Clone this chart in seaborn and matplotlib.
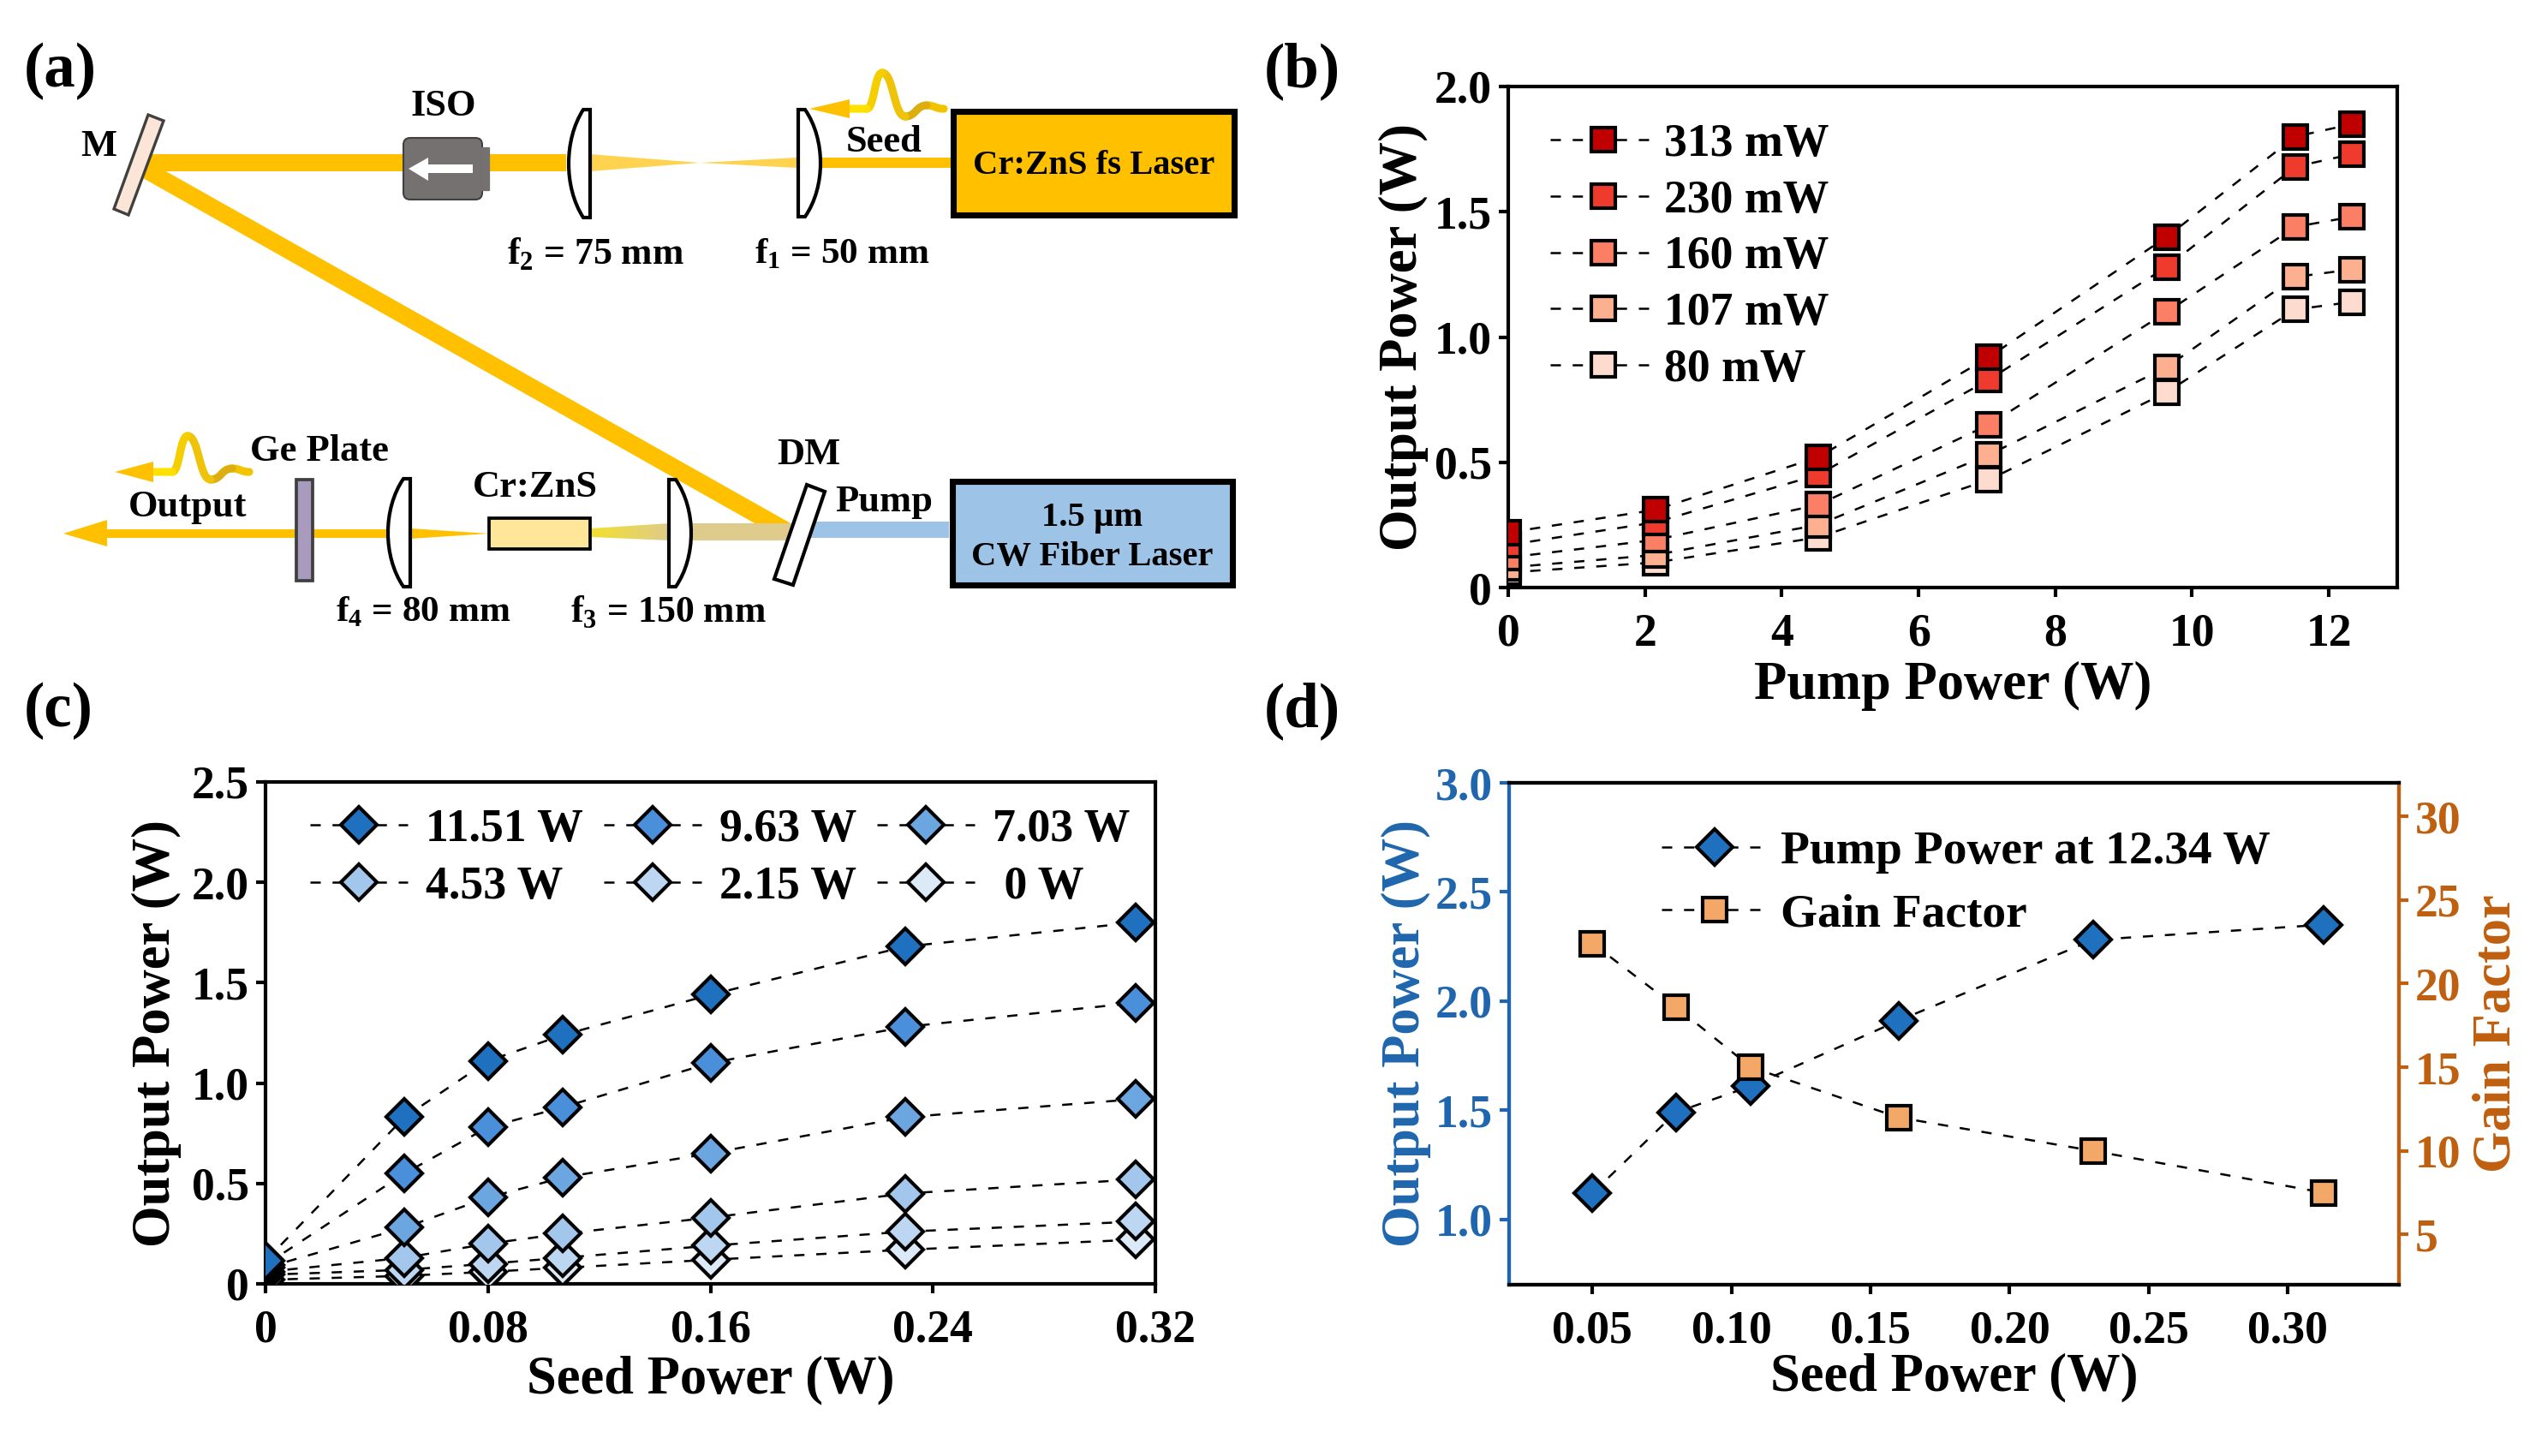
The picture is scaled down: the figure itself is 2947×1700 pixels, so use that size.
import matplotlib
matplotlib.use("Agg")
import matplotlib.pyplot as plt
import numpy as np
import seaborn as sns
from matplotlib.colors import LinearSegmentedColormap
from matplotlib.patches import Polygon, Rectangle, FancyBboxPatch, PathPatch
from matplotlib.path import Path

W, H = 2947, 1700

# panel (b): output power vs pump power, one series per seed power
pump_power = [0, 2.15, 4.53, 7.03, 9.63, 11.51, 12.34]
seed_labels = ["313 mW", "230 mW", "160 mW", "107 mW", "80 mW"]
seed_313 = [0.22, 0.31, 0.52, 0.92, 1.40, 1.80, 1.85]
seed_230 = [0.17, 0.26, 0.45, 0.83, 1.28, 1.68, 1.73]
seed_160 = [0.12, 0.19, 0.33, 0.65, 1.10, 1.44, 1.48]
seed_107 = [0.08, 0.13, 0.25, 0.53, 0.88, 1.24, 1.27]
seed_80 = [0.06, 0.10, 0.20, 0.43, 0.78, 1.11, 1.14]
reds = ["#C00000", "#EE3B2E", "#FB7F64", "#FCB08F", "#FDDCCF"]

# panel (c): output power vs seed power, one series per pump power
seed_power = [0, 0.05, 0.08, 0.107, 0.16, 0.23, 0.313]
pump_labels = ["11.51 W", "9.63 W", "7.03 W", "4.53 W", "2.15 W", " 0 W"]
pump_1151 = [0.115, 0.83, 1.11, 1.24, 1.44, 1.68, 1.80]
pump_963 = [0.095, 0.55, 0.78, 0.88, 1.10, 1.28, 1.40]
pump_703 = [0.08, 0.28, 0.43, 0.53, 0.65, 0.83, 0.92]
pump_453 = [0.06, 0.13, 0.20, 0.25, 0.33, 0.45, 0.52]
pump_215 = [0.045, 0.07, 0.10, 0.13, 0.19, 0.26, 0.31]
pump_0 = [0.02, 0.04, 0.06, 0.08, 0.12, 0.17, 0.22]
blues = ["#2070C0", "#4A8FDA", "#6BA6E0", "#A3C6EC", "#BDD7F2", "#DCEAF8"]

# panel (d): output power and gain factor at full pump
seed_d = [0.05, 0.08, 0.107, 0.16, 0.23, 0.313]
output_d = [1.12, 1.49, 1.61, 1.91, 2.28, 2.35]
gain_d = [22.4, 18.6, 15.0, 12.0, 10.0, 7.5]

BLUE_AXIS = "#1F66AE"
ORANGE_AXIS = "#BF5F10"
BEAM = "#FFC000"
DASH = (0, (4.8, 5.5))

sns.set_theme(style="ticks")
plt.rcParams["font.family"] = ["Liberation Serif", "DejaVu Serif"]
plt.rcParams["font.weight"] = "bold"
plt.rcParams["axes.labelweight"] = "bold"
plt.rcParams["mathtext.fontset"] = "custom"
plt.rcParams["mathtext.bf"] = "Liberation Serif:bold"
plt.rcParams["mathtext.rm"] = "Liberation Serif:bold"
plt.rcParams["axes.linewidth"] = 1.0
for key in ["text.color", "axes.labelcolor", "xtick.color", "ytick.color"]:
    plt.rcParams[key] = "black"

fig = plt.figure(figsize=(W / 300, H / 300), dpi=300)


def px_axes(left, top, right, bottom):
    return fig.add_axes([left / W, 1 - bottom / H, (right - left) / W, (bottom - top) / H])


def draw_series(ax, x, y, color, marker, label=None, order=3):
    size = 6.6 if marker == "s" else 7.0
    sns.lineplot(x=x, y=y, ax=ax, color="black", linestyle=DASH, linewidth=0.6,
                 marker=marker, markersize=size, markerfacecolor=color,
                 markeredgecolor="black", markeredgewidth=1.0,
                 errorbar=None, label=label, zorder=order)


def style_axes(ax, tick_size=12.9):
    ax.tick_params(axis="both", direction="out", length=2.6, width=1.0, labelsize=tick_size,
                   colors="black", bottom=True, left=True)
    ax.tick_params(axis="x", pad=4.5)
    ax.tick_params(axis="y", pad=2)
    for s in ax.spines.values():
        s.set_visible(True)
        s.set_linewidth(1.0)
        s.set_color("black")


# ---- schematic (a), drawn in picture pixels ----
sk = fig.add_axes([0, 0, 1, 1])
sk.set_xlim(0, W)
sk.set_ylim(H, 0)
sk.axis("off")


def poly(points, fc, ec="none", lw=0, z=2):
    sk.add_patch(Polygon(points, closed=True, facecolor=fc, edgecolor=ec, linewidth=lw, zorder=z))


def grad_poly(points, c0, c1, z=2):
    # left to right colour fade, clipped to the beam shape
    xs = [p[0] for p in points]
    ys = [p[1] for p in points]
    cmap = LinearSegmentedColormap.from_list("fade", [c0, c1])
    im = sk.imshow(np.linspace(0, 1, 64).reshape(1, -1), cmap=cmap, aspect="auto", zorder=z,
                   extent=(min(xs), max(xs), max(ys), min(ys)))
    im.set_clip_path(Polygon(points, closed=True, transform=sk.transData))
    sk.set_xlim(0, W)
    sk.set_ylim(H, 0)


def box(x0, y0, x1, y1, fc, ec="black", lw=1.6, z=3):
    sk.add_patch(Rectangle((x0, y0), x1 - x0, y1 - y0, facecolor=fc, edgecolor=ec, linewidth=lw, zorder=z))


def lens(x_flat, x_bulge, y0, y1):
    side = 1 if x_bulge > x_flat else -1
    x_top = x_flat + side * 8
    cx = x_top + (x_bulge - x_top) / 0.75
    h = y1 - y0
    verts = [(x_flat, y0), (x_top, y0), (cx, y0 + 0.28 * h), (cx, y1 - 0.28 * h), (x_top, y1),
             (x_flat, y1), (x_flat, y0)]
    codes = [Path.MOVETO, Path.LINETO, Path.CURVE4, Path.CURVE4, Path.CURVE4, Path.LINETO, Path.CLOSEPOLY]
    sk.add_patch(PathPatch(Path(verts, codes), facecolor="white", edgecolor="black", linewidth=1.0, zorder=5))


def pulse(xr, yr, knots, colors, tip_x, head_x, half):
    for (a, b), (c, d), col in zip(knots[:-1], knots[1:], colors):
        mid = xr + (a + c) / 2
        verts = [(xr + a, yr + b), (mid, yr + b), (mid, yr + d), (xr + c, yr + d)]
        codes = [Path.MOVETO, Path.CURVE4, Path.CURVE4, Path.CURVE4]
        sk.add_patch(PathPatch(Path(verts, codes), facecolor="none", edgecolor=col, linewidth=2.2,
                               capstyle="round", zorder=4))
    poly([(tip_x, yr), (head_x, yr - half), (head_x, yr + half)], BEAM, z=4)


# top arm
poly([(155, 180), (661, 180), (661, 200), (155, 200)], BEAM)
poly([(689, 180), (817, 190), (930, 184), (930, 196), (817, 190), (689, 200)], "#FFD34F")
poly([(958, 184), (1110, 184), (1110, 196), (958, 196)], BEAM)
# folded beam
poly([(192, 199), (925, 612), (883, 612), (160, 204), (160, 199)], BEAM)
# bottom arm
poly([(807, 611), (930, 611), (930, 631), (807, 631)], "#DFCB8B")
grad_poly([(690, 617), (782, 611), (782, 631), (690, 627)], "#F2E030", "#DFCB8B")
poly([(936, 609), (1108, 609), (1108, 628), (930, 628)], "#9DC3E6")
poly([(125, 618), (453, 618), (453, 628), (125, 628)], BEAM)
poly([(74, 623), (125, 607), (125, 638)], BEAM)
poly([(453, 617), (479, 617), (571, 623), (479, 629), (453, 629)], BEAM)

box(1113, 130, 1441, 251, BEAM, lw=1.7)
box(1112, 562, 1439, 683, "#9DC3E6", lw=1.7)
box(571, 605, 689, 641, "#FFE699", lw=0.9)
box(346, 560, 365, 678, "#A99BBD", ec="#404040", lw=0.9)
poly([(173, 134), (191, 141), (150, 251), (133, 244)], "#FBE5D6", ec="#404040", lw=0.8, z=4)
poly([(942, 566), (963, 574), (926, 683), (904, 676)], "white", ec="black", lw=1.0, z=4)

# isolator
sk.add_patch(FancyBboxPatch((471, 161), 92, 72, boxstyle="round,pad=0,rounding_size=8",
                            facecolor="#767171", edgecolor="#404040", linewidth=0.5, zorder=4))
box(562, 172, 571, 222, "#767171", ec="#767171", lw=0.3, z=4)
poly([(477, 197), (500, 184), (500, 192), (552, 192), (552, 202), (500, 202), (500, 211)], "white", z=6)

lens(689, 664, 128, 254)
lens(932, 958, 128, 253)
lens(479, 453, 559, 685)
lens(781, 807, 560, 685)

wiggle = [(0, 0), (-20, -4), (-45, 9), (-72, -42), (-90, 0), (-110, 0)]
wiggle_colors = ["#F2C400", "#DDAE10", "#EFC30A", "#F5CE00", "#FFE100"]
pulse(1102, 127, wiggle, wiggle_colors, 945, 992, 11)
pulse(291, 551, wiggle, wiggle_colors, 134, 179, 12)


def label(x, y, s, size=10.7, ha="center"):
    sk.text(x, y + 2.5, s, fontsize=size, ha=ha, va="center", zorder=8)


label(518, 121, "ISO")
label(115, 168, "M")
label(1032, 163, "Seed")
label(1277, 191, "Cr:ZnS fs Laser", 9.75)
label(592, 294, r"f$_{\mathbf{2}}$ = 75 mm", 10.5, ha="left")
label(881, 294, r"f$_{\mathbf{1}}$ = 50 mm", 10.4, ha="left")
label(373, 524, "Ge Plate")
label(219, 589, "Output")
label(625, 567, "Cr:ZnS")
label(944, 529, "DM")
label(1032, 583, "Pump")
label(1275, 602, "1.5 µm", 9.75)
label(1275, 648, "CW Fiber Laser", 9.75)
label(392, 712, r"f$_{\mathbf{4}}$ = 80 mm", 10.4, ha="left")
label(666, 712, r"f$_{\mathbf{3}}$ = 150 mm", 10.5, ha="left")

for tag, x, y in [("(a)", 28, 81), ("(b)", 1476, 81), ("(c)", 28, 828), ("(d)", 1476, 828)]:
    label(x, y, tag, 17.5, ha="left")

# ---- panel (b) ----
ax_b = px_axes(1761, 101, 2799, 686)
series_b = [seed_313, seed_230, seed_160, seed_107, seed_80]
for i, vals in reversed(list(enumerate(series_b))):
    draw_series(ax_b, pump_power, vals, reds[i], "s", seed_labels[i], order=3 + (5 - i))
ax_b.set_xlim(0, 13)
ax_b.set_ylim(0, 2)
ax_b.set_xticks([0, 2, 4, 6, 8, 10, 12])
ax_b.set_yticks([0, 0.5, 1.0, 1.5, 2.0])
ax_b.set_yticklabels(["0", "0.5", "1.0", "1.5", "2.0"])
style_axes(ax_b)
ax_b.set_xlabel("Pump Power (W)", fontsize=15, labelpad=1.6)
ax_b.set_ylabel("Output Power (W)", fontsize=15, labelpad=1.7)
h, l = ax_b.get_legend_handles_labels()
ax_b.legend(h[::-1], l[::-1], loc="upper left", bbox_to_anchor=(0.047, 0.926), frameon=False,
            fontsize=12.9, borderpad=0, borderaxespad=0, handlelength=2.3, handletextpad=0.17,
            labelspacing=0.29)

# ---- panel (c) ----
ax_c = px_axes(310, 913, 1349, 1499)
series_c = [pump_1151, pump_963, pump_703, pump_453, pump_215, pump_0]
for i, vals in reversed(list(enumerate(series_c))):
    draw_series(ax_c, seed_power, vals, blues[i], "D", pump_labels[i], order=3 + (6 - i))
ax_c.set_xlim(0, 0.32)
ax_c.set_ylim(0, 2.5)
ax_c.set_xticks([0, 0.08, 0.16, 0.24, 0.32])
ax_c.set_xticklabels(["0", "0.08", "0.16", "0.24", "0.32"])
ax_c.set_yticks([0, 0.5, 1.0, 1.5, 2.0, 2.5])
ax_c.set_yticklabels(["0", "0.5", "1.0", "1.5", "2.0", "2.5"])
style_axes(ax_c)
ax_c.set_xlabel("Seed Power (W)", fontsize=15, labelpad=1.0)
ax_c.set_ylabel("Output Power (W)", fontsize=15, labelpad=2.7)
h, l = ax_c.get_legend_handles_labels()
h, l = h[::-1], l[::-1]
order = [0, 3, 1, 4, 2, 5]
ax_c.legend([h[k] for k in order], [l[k] for k in order], ncol=3, loc="upper left",
            bbox_to_anchor=(0.05, 0.947), frameon=False, fontsize=12.9, borderpad=0, borderaxespad=0,
            handlelength=2.12, handletextpad=0.39, labelspacing=0.31, columnspacing=0.45)

# ---- panel (d) ----
ax_d = px_axes(1762, 914, 2801, 1500)
ax_g = ax_d.twinx()
draw_series(ax_d, seed_d, output_d, blues[0], "D", "Pump Power at 12.34 W")
draw_series(ax_g, seed_d, gain_d, "#F4A868", "s", "Gain Factor")
ax_d.set_xlim(0.02, 0.34)
ax_d.set_ylim(0.7, 3.0)
ax_g.set_ylim(2, 32)
ax_d.set_xticks([0.05, 0.10, 0.15, 0.20, 0.25, 0.30])
ax_d.set_xticklabels(["0.05", "0.10", "0.15", "0.20", "0.25", "0.30"])
ax_d.set_yticks([1.0, 1.5, 2.0, 2.5, 3.0])
ax_g.set_yticks([5, 10, 15, 20, 25, 30])
style_axes(ax_d)
style_axes(ax_g)
ax_d.tick_params(axis="y", colors=BLUE_AXIS)
ax_g.tick_params(axis="y", colors=ORANGE_AXIS, right=True, left=False)
ax_g.spines["left"].set_color(BLUE_AXIS)
ax_g.spines["right"].set_color(ORANGE_AXIS)
ax_d.spines["left"].set_color(BLUE_AXIS)
ax_d.spines["right"].set_color(ORANGE_AXIS)
ax_d.set_xlabel("Seed Power (W)", fontsize=15, labelpad=0)
ax_d.set_ylabel("Output Power (W)", fontsize=15, labelpad=1.2, color=BLUE_AXIS)
ax_g.set_ylabel("Gain Factor", fontsize=15, labelpad=3, color=ORANGE_AXIS)
h1, l1 = ax_d.get_legend_handles_labels()
h2, l2 = ax_g.get_legend_handles_labels()
ax_d.get_legend().remove()
ax_g.legend(h1 + h2, l1 + l2, loc="upper left", bbox_to_anchor=(0.171, 0.905), frameon=False,
            fontsize=13.3, borderpad=0, borderaxespad=0, handlelength=2.25, handletextpad=0.27,
            labelspacing=0.40)

fig.savefig("out.png", dpi=300)
